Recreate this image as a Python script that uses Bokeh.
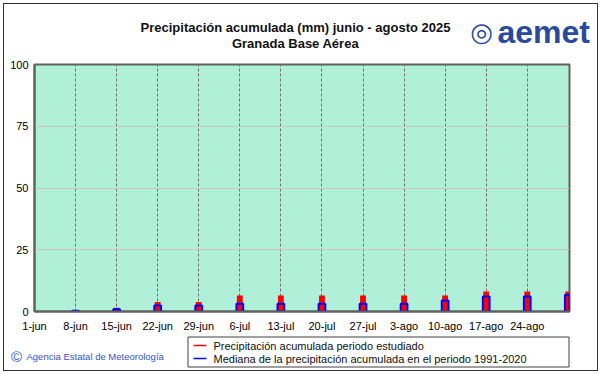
import pandas as pd
from bokeh.plotting import figure
from bokeh.layouts import column
from bokeh.models import FixedTicker, Range1d, ColumnDataSource
from bokeh.core.properties import value
from bokeh.embed import file_html
from bokeh.resources import INLINE

# ---------------- data ----------------
inicio = "2025-06-01"
fin = "2025-08-31"
fechas = ["2025-06-08", "2025-06-15", "2025-06-22", "2025-06-29", "2025-07-06",
          "2025-07-13", "2025-07-20", "2025-07-27", "2025-08-03", "2025-08-10",
          "2025-08-17", "2025-08-24", "2025-08-31"]
precip_periodo = [0.0, 1.5, 3.8, 3.8, 6.5, 6.5, 6.5, 6.5, 6.5, 6.5, 8.1, 8.1, 8.1]
mediana_1991_2020 = [0.3, 0.9, 2.4, 2.4, 3.1, 3.1, 3.1, 3.1, 3.1, 4.5, 6.1, 6.1, 6.8]
tick_fechas = ["2025-06-01", "2025-06-08", "2025-06-15", "2025-06-22", "2025-06-29",
               "2025-07-06", "2025-07-13", "2025-07-20", "2025-07-27", "2025-08-03",
               "2025-08-10", "2025-08-17", "2025-08-24"]
tick_labels = ["1-jun", "8-jun", "15-jun", "22-jun", "29-jun", "6-jul", "13-jul",
               "20-jul", "27-jul", "3-ago", "10-ago", "17-ago", "24-ago"]
y_ticks = [0, 25, 50, 75, 100]

titulo1 = "Precipitación acumulada (mm) junio - agosto 2025"
titulo2 = "Granada Base Aérea"
leyenda_labels = ["Precipitación acumulada periodo estudiado",
                  "Mediana de la precipitación acumulada en el periodo 1991-2020"]
leyenda_colors = ["#ff0000", "#0000ff"]
copyright_txt = "Agencia Estatal de Meteorología"
logo_txt = "aemet"

# ---------------- derived ----------------
t0 = pd.Timestamp(inicio)
x = [(pd.Timestamp(d) - t0).days for d in fechas]
tick_x = [(pd.Timestamp(d) - t0).days for d in tick_fechas]
x_end = (pd.Timestamp(fin) - t0).days

src = ColumnDataSource(dict(x=x, obs=precip_periodo, med=mediana_1991_2020))

FONT = "Liberation Sans"
W = 601
H_HEAD, H_MAIN, H_FOOT = 56, 278, 40


def blank(h):
    f = figure(width=W, height=h, output_backend="svg", toolbar_location=None,
               x_range=Range1d(0, W), y_range=Range1d(h, 0),
               x_axis_type=None, y_axis_type=None, min_border=0,
               background_fill_alpha=0, border_fill_alpha=0,
               frame_align=False)
    f.grid.visible = False
    f.outline_line_color = None
    return f


# ---------------- header ----------------
head = blank(H_HEAD)
head.text(x=[295], y=[27], text=[titulo1], text_align="center", text_baseline="middle",
          text_font=value(FONT), text_font_size="13px", text_font_style="bold",
          text_color="#111111")
head.text(x=[295], y=[43], text=[titulo2], text_align="center", text_baseline="middle",
          text_font=value(FONT), text_font_size="13px", text_font_style="bold",
          text_color="#111111")
head.text(x=[481], y=[31], text=["◎"], text_align="center", text_baseline="middle",
          text_font=value("DejaVu Sans"), text_font_size="26px", text_color="#2a4a9c")
head.text(x=[497], y=[31], text=[logo_txt], text_align="left", text_baseline="middle",
          text_font=value(FONT), text_font_size="32px", text_font_style="bold",
          text_color="#2a4a9c")

# ---------------- main chart ----------------
p = figure(width=W, height=H_MAIN, output_backend="svg", toolbar_location=None,
           x_range=Range1d(0, x_end + 0.2), y_range=Range1d(0, 100),
           min_border_left=34, min_border_right=32, min_border_top=8,
           min_border_bottom=23, frame_align=False,
           background_fill_color="#b0f0d8", border_fill_alpha=0)
p.outline_line_color = "#606060"
p.outline_line_width = 2

p.xgrid.ticker = FixedTicker(ticks=tick_x)
p.xgrid.grid_line_color = "#707070"
p.xgrid.grid_line_dash = "3 2"
p.xgrid.grid_line_width = 1
p.ygrid.ticker = FixedTicker(ticks=y_ticks)
p.ygrid.grid_line_color = "#c8c4c8"
p.ygrid.grid_line_width = 1

p.xaxis.ticker = FixedTicker(ticks=tick_x)
p.xaxis.major_label_overrides = {tx: lab for tx, lab in zip(tick_x, tick_labels)}
p.yaxis.ticker = FixedTicker(ticks=y_ticks)
for ax in (p.xaxis[0], p.yaxis[0]):
    ax.axis_line_color = "#606060"
    ax.axis_line_width = 2
    ax.major_tick_line_color = None
    ax.minor_tick_line_color = None
    ax.major_tick_out = 0
    ax.major_tick_in = 0
    ax.minor_tick_out = 0
    ax.major_label_text_font = FONT
    ax.major_label_text_font_size = "11px"
    ax.major_label_text_color = "black"
p.xaxis.major_label_standoff = 8
p.yaxis.major_label_standoff = 6

p.vbar(x="x", top="obs", bottom=0, width=1.0, source=src,
       fill_color="#ff0000", line_color=None)
p.vbar(x="x", top="med", bottom=0, width=1.15, source=src,
       fill_color=None, line_color="#0000ff", line_width=2)

# ---------------- footer ----------------
foot = blank(H_FOOT)
foot.text(x=[16], y=[22], text=["©"], text_align="center", text_baseline="middle",
          text_font=value(FONT), text_font_size="15px", text_color="#3355cc")
foot.text(x=[26], y=[22], text=[copyright_txt], text_align="left", text_baseline="middle",
          text_font=value(FONT), text_font_size="9.5px", text_color="#3355cc")

# legend box (drawn in footer)
leg_y = [11, 24]
foot.quad(left=[187.5], right=[568.5], top=[2.5], bottom=[32.5],
          fill_color="white", line_color="#404040", line_width=1)
foot.segment(x0=[193] * 2, x1=[206] * 2, y0=leg_y, y1=leg_y,
             line_color=leyenda_colors, line_width=1.5)
foot.text(x=[213] * 2, y=leg_y, text=leyenda_labels, text_align="left",
          text_baseline="middle", text_font=value(FONT), text_font_size="11px",
          text_color="#111111")

lay = column(head, p, foot, spacing=0)
lay.styles = {"outline": "1px solid #333333", "outline-offset": "-4px",
              "background-color": "white"}

open("out.html", "w").write(file_html(lay, INLINE))
